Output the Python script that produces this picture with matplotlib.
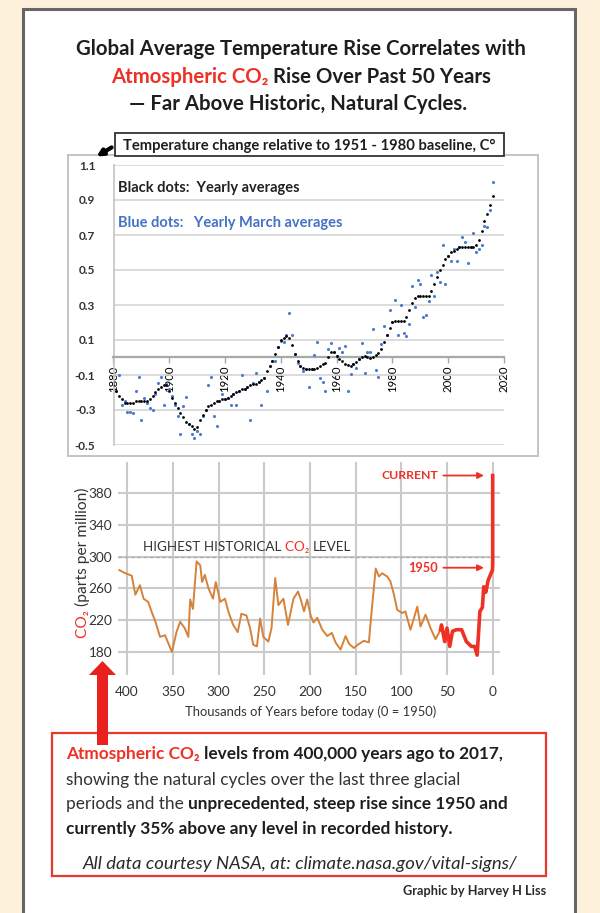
import matplotlib
matplotlib.use('Agg')
import matplotlib.pyplot as plt
from matplotlib.patches import Rectangle, Polygon, FancyArrowPatch

# ---------------- data ----------------
temp_years = list(range(1880, 2017))
temp_yearly = [
    -0.16, -0.19, -0.22, -0.24, -0.26, -0.26, -0.26, -0.26, -0.25, -0.25,
    -0.25, -0.25, -0.25, -0.24, -0.22, -0.20, -0.18, -0.17, -0.16, -0.16,
    -0.19, -0.23, -0.26, -0.29, -0.32, -0.34, -0.37, -0.38, -0.39, -0.41,
    -0.40, -0.36, -0.33, -0.30, -0.28, -0.27, -0.26, -0.25, -0.25, -0.24,
    -0.24, -0.23, -0.22, -0.21, -0.20, -0.19, -0.18, -0.18, -0.17, -0.16,
    -0.15, -0.15, -0.14, -0.13, -0.12, -0.08, -0.05, -0.02, 0.02, 0.06,
    0.10, 0.11, 0.12, 0.11, 0.07, 0.02, -0.02, -0.05, -0.06, -0.065,
    -0.065, -0.065, -0.065, -0.06, -0.05, -0.04, -0.03, 0.00, 0.03, 0.03,
    0.01, -0.01, -0.02, -0.035, -0.045, -0.05, -0.04, -0.025, -0.01, 0.005,
    0.01, 0.00, -0.005, 0.00, 0.015, 0.025, 0.05, 0.09, 0.13, 0.17,
    0.20, 0.21, 0.21, 0.21, 0.21, 0.23, 0.27, 0.31, 0.34, 0.35,
    0.35, 0.35, 0.35, 0.35, 0.38, 0.42, 0.46, 0.50, 0.53, 0.56,
    0.58, 0.60, 0.61, 0.62, 0.63, 0.63, 0.63, 0.63, 0.63, 0.63,
    0.645, 0.67, 0.72, 0.78, 0.82, 0.87, 0.92,
]
temp_march = [
    -0.14, -0.19, -0.10, -0.27, -0.25, -0.31, -0.31, -0.32, -0.19, -0.11,
    -0.36, -0.23, -0.26, -0.29, -0.30, -0.21, -0.145, -0.11, -0.27, -0.15,
    -0.18, -0.22, -0.27, -0.335, -0.44, -0.28, -0.225, -0.38, -0.44, -0.46,
    -0.42, -0.44, -0.335, -0.30, -0.155, -0.11, -0.335, -0.39, -0.25, -0.21,
    -0.24, -0.23, -0.27, -0.21, -0.27, -0.19, -0.10, -0.18, -0.17, -0.355,
    -0.145, -0.087, -0.14, -0.27, -0.12, -0.19, -0.05, -0.02, -0.02, 0.06,
    0.093, 0.09, 0.13, 0.255, 0.13, 0.02, -0.03, -0.05, -0.077, -0.065,
    -0.17, -0.065, 0.017, 0.09, -0.12, -0.14, -0.19, 0.046, 0.08, 0.03,
    0.01, 0.057, 0.03, 0.065, -0.19, -0.097, -0.04, -0.06, -0.01, 0.085,
    -0.09, 0.03, 0.03, 0.16, -0.07, -0.11, 0.075, 0.18, 0.13, 0.27,
    0.20, 0.33, 0.13, 0.30, 0.14, 0.12, 0.19, 0.41, 0.29, 0.44,
    0.42, 0.23, 0.24, 0.32, 0.47, 0.35, 0.49, 0.43, 0.64, 0.42,
    0.58, 0.55, 0.62, 0.55, 0.63, 0.69, 0.66, 0.54, 0.63, 0.71,
    0.60, 0.62, 0.64, 0.75, 0.745, 0.84, 1.00,
]
temp_yticks = [-0.5, -0.3, -0.1, 0.1, 0.3, 0.5, 0.7, 0.9, 1.1]
temp_ytick_labels = ['-0.5', '-0.3', '-0.1', '0.1', '0.3', '0.5', '0.7', '0.9', '1.1']
temp_xticks = [1880, 1900, 1920, 1940, 1960, 1980, 2000, 2020]

co2_age_natural = [
    408.5, 402, 395, 391, 386, 382, 377, 373, 369, 364,
    358.5, 355, 351, 346, 342, 337, 333, 331, 328, 324,
    320, 318, 315, 311, 306, 303, 298, 293, 289, 284,
    279, 275, 269.5, 265.5, 262, 258, 254.5, 251, 245.5, 242,
    238, 234.5, 229, 224, 218, 213, 210, 206.5, 203, 199,
    196, 192, 186.5, 181, 176, 172, 166.5, 161, 157, 152,
    146.5, 141, 135.5, 132, 128, 124.5, 121, 115.5, 112, 108,
    104.5, 99, 95.5, 90, 86, 82.5, 79, 73.5, 68, 62.5,
    57,
]
co2_ppm_natural = [
    283, 279, 276, 252, 264, 247, 243, 230, 218, 199,
    201, 191, 180, 205, 218, 210, 199, 246, 234, 294,
    289, 268, 277, 260, 247, 268, 243, 247, 230, 214,
    205, 228, 226, 210, 189, 187, 222, 199, 193, 210,
    273, 239, 247, 214, 247, 256, 246, 231, 246, 225,
    217, 223, 208, 200, 204, 192, 183, 200, 190, 185,
    190, 194, 192, 237, 285, 275, 279, 275, 269, 252,
    233, 229, 231, 208, 223, 237, 212, 227, 210, 196,
    208,
]
co2_age_recent = [57, 56, 52.5, 50, 47, 44, 39.7, 34, 28.8, 23.3,
                  19.7, 17, 14, 11.3, 9.8, 7.6, 5, 2.5, 0.3, 0, 0]
co2_ppm_recent = [208, 214, 193, 210, 187, 206, 208, 208, 193, 187,
                  187, 176, 231, 236, 262, 255, 270, 277, 283, 290, 402]
co2_highest_historical = 300
co2_current = 402
co2_1950 = 286
co2_xticks = [400, 350, 300, 250, 200, 150, 100, 50, 0]
co2_yticks = [180, 220, 260, 300, 340, 380]

# ---------------- styling ----------------
W, H = 600, 913
FONT = ['Lato', 'DejaVu Sans']
plt.rcParams['font.family'] = FONT
RED = '#EE3124'
DARK = '#1E1E1E'
ORANGE = '#D5823B'
BLUE = '#4A7BD0'

fig = plt.figure(figsize=(6, 9.13), dpi=100)
fig.patch.set_facecolor('#FDF1DC')
renderer = fig.canvas.get_renderer()


def fx(x):
    return x / W


def fy(y):
    return 1 - y / H


def rect(x0, y0, x1, y1):
    return [fx(x0), fy(y1), (x1 - x0) / W, (y1 - y0) / H]


def tw(s, size, weight='normal', style='normal'):
    kw = dict(fontsize=size, fontweight=weight, fontstyle=style)
    a = fig.text(0, 0, s + '|', **kw)
    w1 = a.get_window_extent(renderer).width
    a.remove()
    b = fig.text(0, 0, '|', **kw)
    w2 = b.get_window_extent(renderer).width
    b.remove()
    return w1 - w2


def runs(x, yc, parts, size, ha='left', rotation=0):
    """parts: list of (text, color, weight, style). yc = centre line in px.
    For rotation=90, x is the bottom start (px from top) and yc the column x."""
    widths = [tw(t, size, w, st) for t, c, w, st in parts]
    total = sum(widths)
    if ha == 'center':
        pos = x - total / 2
    elif ha == 'right':
        pos = x - total
    else:
        pos = x
    base = 0.36 * size * 100 / 72
    for (t, c, w, st), wd in zip(parts, widths):
        if rotation == 0:
            fig.text(fx(pos), fy(yc + base), t, fontsize=size, color=c,
                     fontweight=w, fontstyle=st, ha='left', va='baseline')
            pos += wd
        else:
            fig.text(fx(yc + base), fy(pos), t, fontsize=size, color=c,
                     fontweight=w, fontstyle=st, ha='left', va='baseline',
                     rotation=90, rotation_mode='anchor')
            pos -= wd
    return total


# panel
fig.add_artist(Rectangle((fx(23), fy(940)), (575 - 23) / W, (940 - 9) / H,
                         transform=fig.transFigure, facecolor='white',
                         edgecolor='#666666', lw=2.2, zorder=-2))

# title
TS = 14.7
runs(301, 48, [('Global Average Temperature Rise Correlates with', DARK, 'bold', 'normal')], TS, ha='center')
runs(301, 76, [('Atmospheric CO₂ ', RED, 'bold', 'normal'),
               ('Rise Over Past 50 Years', DARK, 'bold', 'normal')], TS, ha='center')
runs(298, 103, [('— Far Above Historic, Natural Cycles.', DARK, 'bold', 'normal')], TS, ha='center')

# ---------------- top chart ----------------
fig.add_artist(Rectangle((fx(68), fy(456)), (538 - 68) / W, (456 - 155) / H,
                         transform=fig.transFigure, facecolor='white',
                         edgecolor='#C4C4C4', lw=1.4, zorder=-1))
ax1 = fig.add_axes(rect(113.5, 165, 504, 445))
ax1.set_xlim(1880, 2020)
ax1.set_ylim(-0.5, 1.1)
ax1.set_yticks(temp_yticks)
ax1.set_yticklabels(temp_ytick_labels, fontweight='bold', color='#333333')
ax1.set_xticks(temp_xticks)
ax1.set_xticklabels([str(v) for v in temp_xticks], fontweight='bold', color='#333333')
ax1.grid(axis='y', color='#D6D6D6', lw=1.2)
ax1.set_axisbelow(True)
for s in ['top', 'right']:
    ax1.spines[s].set_visible(False)
ax1.spines['left'].set_color('#C4C4C4')
ax1.spines['left'].set_linewidth(1.2)
ax1.spines['bottom'].set_position(('data', 0))
ax1.spines['bottom'].set_color('#A8A8A8')
ax1.spines['bottom'].set_linewidth(1.6)
ax1.tick_params(axis='y', length=0, pad=13, labelsize=8.5)
ax1.tick_params(axis='x', direction='out', length=4, width=1, color='#A8A8A8',
                pad=2, labelrotation=90, labelsize=8.2)
ax1.scatter(temp_years, temp_march, s=5, color=BLUE, lw=0, zorder=3)
ax1.scatter(temp_years, temp_yearly, s=4, color='black', lw=0, zorder=4)

fig.text(fx(118), fy(192), 'Black dots:  Yearly averages', fontsize=10.5,
         fontweight='bold', color='#222222', va='baseline')
fig.text(fx(118), fy(227), 'Blue dots:   Yearly March averages', fontsize=10.5,
         fontweight='bold', color='#4472C4', va='baseline')

# label box + pointer
fig.add_artist(Rectangle((fx(115), fy(156)), (504 - 115) / W, (156 - 133) / H,
                         transform=fig.transFigure, facecolor='white',
                         edgecolor='#333333', lw=1.3, zorder=2))
runs(309, 145, [('Temperature change relative to 1951 - 1980 baseline, C°', DARK, 'bold', 'normal')], 10.6, ha='center')
fig.add_artist(FancyArrowPatch((fx(114), fy(146)), (fx(94), fy(158)),
                               transform=fig.transFigure, arrowstyle='-|>',
                               mutation_scale=9, color='black', lw=3, zorder=3))

# ---------------- bottom chart ----------------
ax2 = fig.add_axes(rect(118, 462, 500, 675))
ax2.set_xlim(410, -8)
ax2.set_ylim(151, 419)
ax2.set_xticks(co2_xticks)
ax2.set_yticks(co2_yticks)
ax2.grid(True, color='#CACACA', lw=1.5)
ax2.set_axisbelow(True)
for s in ax2.spines.values():
    s.set_visible(False)
ax2.tick_params(length=0, labelsize=9.8, labelcolor='#333333')
ax2.tick_params(axis='y', pad=4)
ax2.tick_params(axis='x', pad=8)
ax2.axhline(co2_highest_historical, xmin=0, xmax=0.97, color='#AAAAAA', lw=0.9,
            ls=(0, (3, 2)), zorder=1)
ax2.plot(co2_age_natural, co2_ppm_natural, color=ORANGE, lw=1.4, zorder=3)
ax2.plot(co2_age_recent, co2_ppm_recent, color=RED, lw=2.6, zorder=4,
         solid_joinstyle='round')

ax2.annotate('', xy=(6.5, co2_current), xytext=(57, co2_current),
             arrowprops=dict(arrowstyle='-|>', color=RED, lw=1.3, mutation_scale=9))
ax2.text(60, co2_current, 'CURRENT', color=RED, fontsize=8.8, fontweight='bold',
         ha='right', va='center')
ax2.annotate('', xy=(6.5, co2_1950), xytext=(57, co2_1950),
             arrowprops=dict(arrowstyle='-|>', color=RED, lw=1.3, mutation_scale=9))
ax2.text(60, co2_1950, '1950', color=RED, fontsize=9.2, fontweight='bold',
         ha='right', va='center')

runs(143, 546, [('HIGHEST HISTORICAL ', '#333333', 'normal', 'normal'),
                ('CO₂ ', RED, 'normal', 'normal'),
                ('LEVEL', '#333333', 'normal', 'normal')], 9.7)

# y label (rotated, mixed colour)
runs(638, 81, [('CO₂ ', RED, 'normal', 'normal'),
               ('(parts per million)', '#333333', 'normal', 'normal')], 11.2, rotation=90)

fig.text(fx(311), fy(712), 'Thousands of Years before today (0 = 1950)',
         fontsize=9.4, color='#333333', ha='center', va='center')

# ---------------- bottom box ----------------
fig.add_artist(Rectangle((fx(52), fy(876)), (546 - 52) / W, (876 - 733) / H,
                         transform=fig.transFigure, facecolor='white',
                         edgecolor='#E8392B', lw=1.6, zorder=1))
fig.add_artist(Polygon([(fx(97), fy(745)), (fx(108), fy(745)), (fx(108), fy(675)),
                        (fx(116), fy(675)), (fx(102.5), fy(661)), (fx(89), fy(675)),
                        (fx(97), fy(675))], closed=True, transform=fig.transFigure,
                       facecolor='#E8201E', edgecolor='none', zorder=2))

BS = 12.4
runs(66, 753, [('Atmospheric CO₂ ', RED, 'bold', 'normal'),
               ('levels from 400,000 years ago to 2017,', DARK, 'bold', 'normal')], BS)
runs(66, 779, [('showing the natural cycles over the last three glacial', '#333333', 'normal', 'normal')], BS)
runs(66, 803, [('periods and the ', '#333333', 'normal', 'normal'),
               ('unprecedented, steep rise since 1950 and', DARK, 'bold', 'normal')], BS)
runs(66, 828, [('currently 35% above any level in recorded history.', DARK, 'bold', 'normal')], BS)
runs(300, 862, [('All data courtesy NASA, at: climate.nasa.gov/vital-signs/', '#2A2A2A', 'normal', 'italic')], 13.3, ha='center')
runs(546, 890, [('Graphic by Harvey H Liss', '#2A2A2A', 'bold', 'normal')], 9.2, ha='right')

fig.savefig('out.png', dpi=100, facecolor=fig.get_facecolor())
